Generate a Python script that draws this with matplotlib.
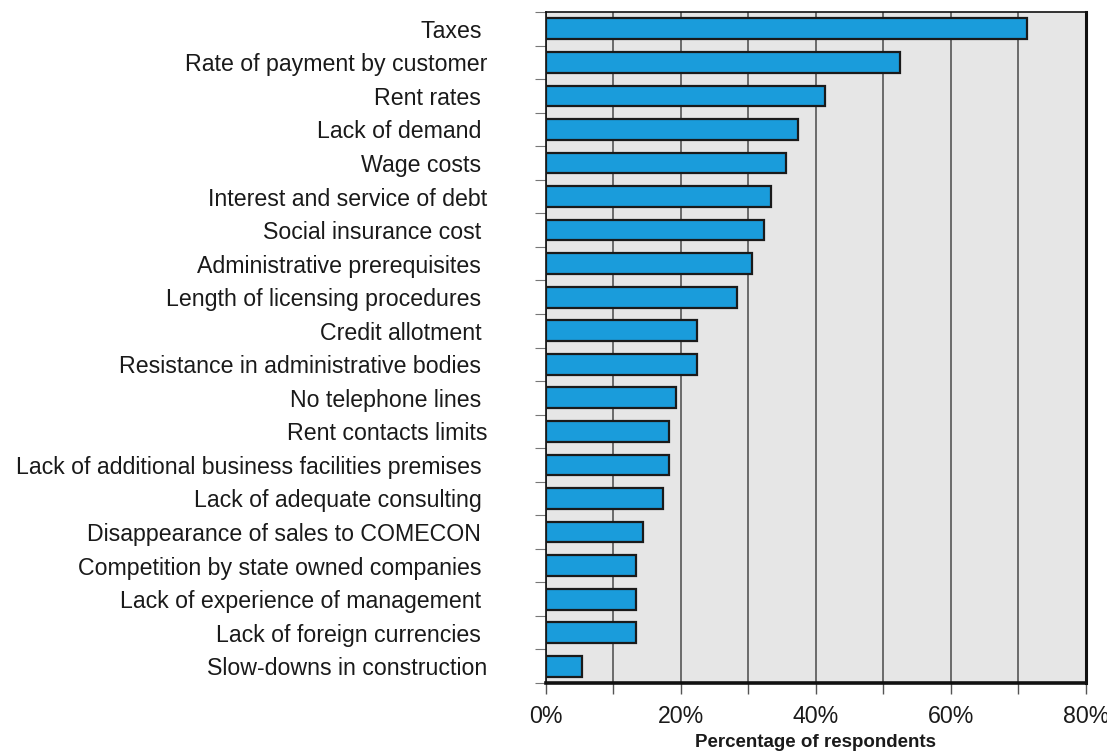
import numpy as np
import matplotlib
matplotlib.use("Agg")
from matplotlib import pyplot as plt
from matplotlib.ticker import MultipleLocator, FuncFormatter

# obstacles reported by firms, share of respondents (%)
obstacles = [
    "Taxes ",
    "Rate of payment by customer",
    "Rent rates ",
    "Lack of demand ",
    "Wage costs ",
    "Interest and service of debt",
    "Social insurance cost ",
    "Administrative prerequisites ",
    "Length of licensing procedures ",
    "Credit allotment ",
    "Resistance in administrative bodies ",
    "No telephone lines ",
    "Rent contacts limits",
    "Lack of additional business facilities premises ",
    "Lack of adequate consulting ",
    "Disappearance of sales to COMECON ",
    "Competition by state owned companies ",
    "Lack of experience of management ",
    "Lack of foreign currencies ",
    "Slow-downs in construction",
]
shares = [71.3, 52.4, 41.4, 37.3, 35.6, 33.4, 32.3, 30.5, 28.3, 22.4,
          22.4, 19.2, 18.2, 18.3, 17.4, 14.4, 13.4, 13.4, 13.4, 5.3]


def createObstaclesChart(names, values):
    plt.rcParams['font.family'] = ['Liberation Sans', 'DejaVu Sans']
    fig = plt.figure(figsize=(11.07, 7.53), dpi=100)
    ax = fig.add_axes([0.4932, 0.093, 0.4878, 0.891])
    ax.set_facecolor('#e6e6e6')

    y = np.arange(len(values))
    ax.barh(y, values, height=0.62, color='#1a9cdb', edgecolor='#1a1a1a',
            linewidth=1.6, zorder=3)

    ax.set_xlim(0, 80)
    ax.set_ylim(len(values) - 0.5, -0.5)

    ax.xaxis.set_major_locator(MultipleLocator(20))
    ax.xaxis.set_minor_locator(MultipleLocator(10))
    ax.xaxis.set_major_formatter(FuncFormatter(lambda v, p: '%d%%' % v))
    ax.grid(axis='x', which='both', color='#555555', linewidth=1.2, zorder=1)
    ax.tick_params(axis='x', which='both', direction='out', length=8,
                   width=1, color='#555555', labelsize=16.7, pad=8)
    for lbl in ax.get_xticklabels():
        lbl.set_color('#1a1a1a')

    ax.set_yticks(y)
    ax.set_yticklabels(names, fontsize=16.7, color='#1a1a1a')
    ax.set_yticks(np.arange(len(values) + 1) - 0.5, minor=True)
    ax.tick_params(axis='y', which='major', length=0, pad=42)
    ax.tick_params(axis='y', which='minor', direction='out', length=8,
                   width=0.8, color='#777777')

    ax.spines['bottom'].set_linewidth(2.6)
    ax.spines['right'].set_linewidth(2.2)
    ax.spines['left'].set_linewidth(1.2)
    ax.spines['top'].set_linewidth(1.2)
    for s in ax.spines.values():
        s.set_color('#111111')

    ax.set_xlabel('Percentage of respondents', fontsize=13.5, fontweight='bold',
                  labelpad=4, color='#1a1a1a')
    fig.savefig('out.png', dpi=100)


def main():
    createObstaclesChart(obstacles, shares)


if __name__ == "__main__":
    main()
